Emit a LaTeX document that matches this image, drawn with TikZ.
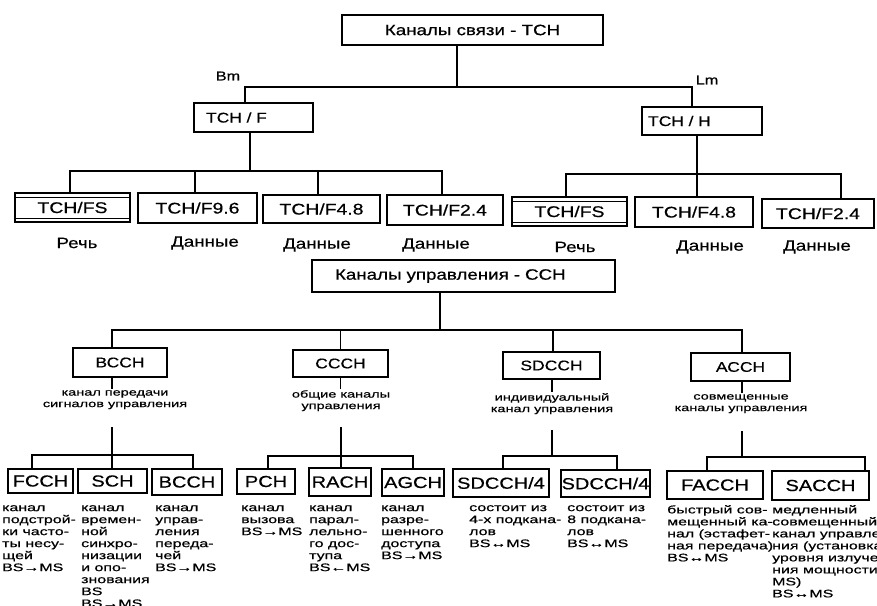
\documentclass[tikz,border=0pt]{standalone}
\usepackage{fontspec}
\setmainfont[FakeStretch=1.25, FakeBold=0.6]{Liberation Sans}
\newfontfamily\notefont[FakeStretch=1.45, FakeBold=0.6]{Liberation Sans}
\usetikzlibrary{calc}

\tikzset{
  box/.style={draw, line width=1.5pt, inner sep=0pt, rectangle, align=center},
  link/.style={line width=1.5pt},
  bigtxt/.style={font=\fontsize{15}{17}\selectfont},
  rowtxt/.style={font=\fontsize{15.5}{17}\selectfont},
  midtxt/.style={font=\fontsize{14}{16}\selectfont},
  lowtxt/.style={font=\fontsize{16}{18}\selectfont},
  kind/.style={font=\fontsize{15}{17}\selectfont, inner sep=0pt},
  note/.style={font=\notefont\fontsize{10}{11.5}\selectfont, align=center, inner sep=1pt},
  detail/.style={font=\notefont\fontsize{11}{12}\selectfont, align=left, inner sep=0pt, anchor=north west},
}

\begin{document}
\begin{tikzpicture}[x=1pt, y=-1pt]
\useasboundingbox (0,0) rectangle (877,605);

% ---- traffic channels ----
\node[box, bigtxt, minimum width=261pt, minimum height=30pt] (top) at (472.5,30) {Каналы связи - ТСН};
\node[kind, font=\fontsize{13}{15}\selectfont] (bm) at (228,76) {Bm};
\node[kind, font=\fontsize{13}{15}\selectfont] (lm) at (707,80) {Lm};
\node[box, midtxt, minimum height=29pt, text width=95pt, inner xsep=12pt, align=left] (tchf) at (253.5,117.5) {TCH / F};
\node[box, midtxt, minimum height=28pt, text width=108pt, inner xsep=6pt, align=left] (tchh) at (702,121) {TCH / H};

\node[box, rowtxt, minimum width=115pt, minimum height=29pt] (fs1) at (72.5,207.5) {TCH/FS};
\node[box, rowtxt, minimum width=119pt, minimum height=30pt] (f96) at (197.5,208) {TCH/F9.6};
\node[box, rowtxt, minimum width=117pt, minimum height=28pt] (f48a) at (321.5,209) {TCH/F4.8};
\node[box, rowtxt, minimum width=116pt, minimum height=30pt] (f24a) at (445,210) {TCH/F2.4};
\node[box, rowtxt, minimum width=115pt, minimum height=29pt] (fs2) at (569.5,211.5) {TCH/FS};
\node[box, rowtxt, minimum width=118pt, minimum height=30pt] (f48b) at (694,212) {TCH/F4.8};
\node[box, rowtxt, minimum width=112pt, minimum height=29pt] (f24b) at (818,213.5) {TCH/F2.4};

% inner rules of the speech channel boxes
\foreach \b in {fs1,fs2}{
  \draw[line width=1.2pt] ([yshift=-5pt]\b.north west) -- ([yshift=-5pt]\b.north east);
  \draw[line width=1.2pt] ([yshift=4.5pt]\b.south west) -- ([yshift=4.5pt]\b.south east);
}

\node[kind] (k1) at (77,243) {Речь};
\node[kind] (k2) at (205,243) {Данные};
\node[kind] (k3) at (317,245) {Данные};
\node[kind] (k4) at (436,245) {Данные};
\node[kind] (k5) at (575,247) {Речь};
\node[kind] (k6) at (710,247) {Данные};
\node[kind] (k7) at (817,247) {Данные};

\coordinate (busT) at (0,87);
\coordinate (busF) at (0,171);
\coordinate (busH) at (0,174);

\draw[link] ([xshift=-15.5pt]top.south) -- ([xshift=-15.5pt]top.south |- busT);
\draw[link] ([xshift=-8.5pt]tchf.north) -- ([xshift=-8.5pt]tchf.north |- busT)
  -- ([xshift=-10pt]tchh.north |- busT) -- ([xshift=-10pt]tchh.north);

\draw[link] ([xshift=-3.5pt]tchf.south) -- ([xshift=-3.5pt]tchf.south |- busF);
\draw[link] ([xshift=-2.5pt]fs1.north) -- ([xshift=-2.5pt]fs1.north |- busF)
  -- ([xshift=-3pt]f24a.north |- busF) -- ([xshift=-3pt]f24a.north);
\draw[link] ([xshift=-2.5pt]f96.north) -- ([xshift=-2.5pt]f96.north |- busF);
\draw[link] ([xshift=-3.5pt]f48a.north) -- ([xshift=-3.5pt]f48a.north |- busF);

\draw[link] ([xshift=-5pt]tchh.south) -- ([xshift=-5pt]tchh.south |- f48b.north);
\draw[link] ([xshift=-3.5pt]fs2.north) -- ([xshift=-3.5pt]fs2.north |- busH)
  -- ([xshift=23pt]f24b.north |- busH) -- ([xshift=23pt]f24b.north);

% ---- control channels ----
\node[box, bigtxt, minimum width=303pt, minimum height=32pt, text width=257pt, align=left, inner xsep=23pt] (cch) at (463.5,276) {Каналы управления - ССН};

\node[box, midtxt, minimum width=94pt, minimum height=29pt] (bcch) at (120,362.5) {ВССН};
\node[box, midtxt, minimum width=95pt, minimum height=27pt] (ccch) at (340.5,363.5) {СССН};
\node[box, midtxt, minimum width=97pt, minimum height=27pt] (sdcch) at (551.5,365.5) {SDCCH};
\node[box, midtxt, minimum width=99pt, minimum height=28pt] (acch) at (740.5,367) {АССН};

\node[note, anchor=north] (d1) at (115,389) {канал передачи\\сигналов управления};
\node[note, anchor=north] (d2) at (341,389) {общие каналы\\управления};
\node[note, anchor=north] (d3) at (552,392) {индивидуальный\\канал управления};
\node[note, anchor=north] (d4) at (741,393) {совмещенные\\каналы управления};

\coordinate (busC) at (0,330);
\draw[link] ([xshift=-23.5pt]cch.south) -- ([xshift=-23.5pt]cch.south |- busC);
\draw[link] ([xshift=-8pt]bcch.north) -- ([xshift=-8pt]bcch.north |- busC)
  -- ([xshift=1.5pt]acch.north |- busC) -- ([xshift=1.5pt]acch.north);
\draw[link] (ccch.north) -- (ccch.north |- busC);
\draw[link] ([xshift=1.5pt]sdcch.north) -- ([xshift=1.5pt]sdcch.north |- busC);

\draw[link] ([xshift=-8pt]bcch.south) -- ([xshift=-8pt]bcch.south |- d1.north);
\draw[link] (ccch.south) -- (ccch.south |- d2.north);
\draw[link] ([xshift=0.5pt]sdcch.south) -- ([xshift=0.5pt]sdcch.south |- d3.north);
\draw[link] ([xshift=1.5pt]acch.south) -- ([xshift=1.5pt]acch.south |- d4.north);

% ---- individual control channels ----
\node[box, lowtxt, minimum width=65pt, minimum height=24pt] (fcch) at (40.5,481) {FCCH};
\node[box, lowtxt, minimum width=69pt, minimum height=24pt] (sch) at (112.5,481) {SCH};
\node[box, lowtxt, minimum width=70pt, minimum height=26pt] (bcch2) at (187,482) {BCCH};
\node[box, lowtxt, minimum width=58pt, minimum height=25pt] (pch) at (266,481.5) {PCH};
\node[box, lowtxt, minimum width=62pt, minimum height=28pt] (rach) at (340,482) {RACH};
\node[box, lowtxt, minimum width=62pt, minimum height=27pt] (agch) at (413,482.5) {AGCH};
\node[box, lowtxt, minimum width=96pt, minimum height=28pt] (sd4a) at (501,483) {SDCCH/4};
\node[box, lowtxt, minimum width=89pt, minimum height=27pt] (sd4b) at (605.5,483.5) {SDCCH/4};
\node[box, lowtxt, minimum width=96pt, minimum height=28pt] (facch) at (715,485) {FACCH};
\node[box, lowtxt, minimum width=97pt, minimum height=29pt] (sacch) at (820.5,485.5) {SACCH};

\coordinate (c1) at (112,427);
\coordinate (c2) at (341,427);
\coordinate (c3) at (552,430);
\coordinate (c4) at (742,431);
\coordinate (busB) at (0,455);
\coordinate (busP) at (0,456);
\coordinate (busS) at (0,456);
\coordinate (busA) at (0,457);

\draw[link] (c1) -- (c1 |- sch.north);
\draw[link] ([xshift=-8.5pt]fcch.north) -- ([xshift=-8.5pt]fcch.north |- busB)
  -- ([xshift=6pt]bcch2.north |- busB) -- ([xshift=6pt]bcch2.north);

\draw[link] (c2) -- (c2 |- rach.north);
\draw[link] ([xshift=2pt]pch.north) -- ([xshift=2pt]pch.north |- busP)
  -- (agch.north |- busP) -- (agch.north);

\draw[link] (c3) -- (c3 |- busS);
\draw[link] ([xshift=2pt]sd4a.north) -- ([xshift=2pt]sd4a.north |- busS)
  -- ([xshift=11.5pt]sd4b.north |- busS) -- ([xshift=11.5pt]sd4b.north);

\draw[link] (c4) -- (c4 |- busA);
\draw[link] ([xshift=-8pt]facch.north) -- ([xshift=-8pt]facch.north |- busA)
  -- ([xshift=44.5pt]sacch.north |- busA) -- ([xshift=44.5pt]sacch.north);

\node[detail] (t1) at (2,505) {канал\\подстрой-\\ки часто-\\ты несу-\\щей\\BS→MS};
\node[detail] (t2) at (81,505) {канал\\времен-\\ной\\синхро-\\низации\\и опо-\\знования\\BS\\BS→MS};
\node[detail] (t3) at (155,505) {канал\\управ-\\ления\\переда-\\чей\\BS→MS};
\node[detail] (t4) at (241,505) {канал\\вызова\\BS→MS};
\node[detail] (t5) at (309,505) {канал\\парал-\\лельно-\\го дос-\\тупа\\BS←MS};
\node[detail] (t6) at (381,505) {канал\\разре-\\шенного\\доступа\\BS→MS};
\node[detail] (t7) at (469,505) {состоит из\\4-х подкана-\\лов\\BS↔MS};
\node[detail] (t8) at (567,505) {состоит из\\8 подкана-\\лов\\BS↔MS};
\node[detail] (t9) at (667,505) {быстрый сов-\\мещенный ка-\\нал (эстафет-\\ная передача)\\BS↔MS};
\node[detail] (t10) at (772,505) {медленный\\совмещенный\\канал управле-\\ния (установка\\уровня излуче-\\ния мощности\\MS)\\BS↔MS};
\end{tikzpicture}
\end{document}
